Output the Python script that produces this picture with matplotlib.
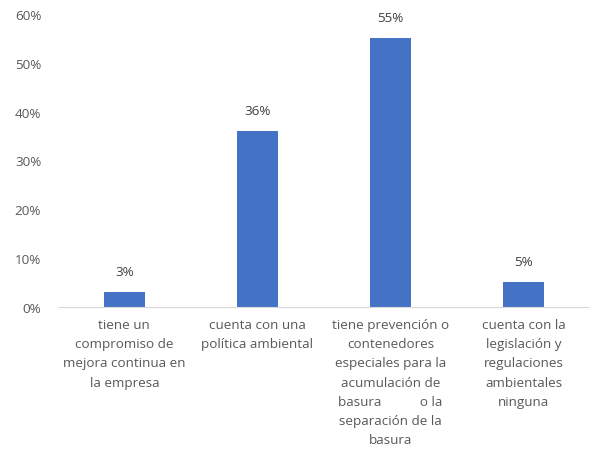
import numpy as np
import matplotlib.pyplot as plt

plt.rcParams['font.family'] = ['Open Sans', 'DejaVu Sans']

# porcentaje de empresas por tipo de práctica ambiental
categorias = [
    "tiene un\ncompromiso de\nmejora continua en\nla empresa",
    "cuenta con una\npolítica ambiental",
    "tiene prevención o\ncontenedores\nespeciales para la\nacumulación de\nbasura           o la\nseparación de la\nbasura",
    "cuenta con la\nlegislación y\nregulaciones\nambientales\nninguna",
]
valores = [3, 36, 55, 5]

fig = plt.figure(figsize=(5.9, 4.56), dpi=100)
ax = fig.add_axes([0.098, 0.325, 0.902, 0.642])

x = np.arange(len(valores))
ax.bar(x, valores, width=0.31, color='#4472C4')

for xi, v in zip(x, valores):
    ax.text(xi, v + 3, f"{v}%", ha='center', va='bottom', fontsize=9.7, color='#404040')

ax.set_xlim(-0.5, len(valores) - 0.5)
ax.set_ylim(0, 60)
ax.set_yticks(range(0, 61, 10))
ax.set_yticklabels([f"{t}%" for t in range(0, 61, 10)], fontsize=9.7, color='#595959')
ax.set_xticks(x)
ax.set_xticklabels(categorias, fontsize=9.7, color='#595959', linespacing=1.62, va='top')

for s in ['top', 'right', 'left']:
    ax.spines[s].set_visible(False)
ax.spines['bottom'].set_color('#D9D9D9')
ax.tick_params(axis='both', length=0)
ax.tick_params(axis='x', pad=8)
ax.tick_params(axis='y', pad=12)

plt.savefig("out.png")
